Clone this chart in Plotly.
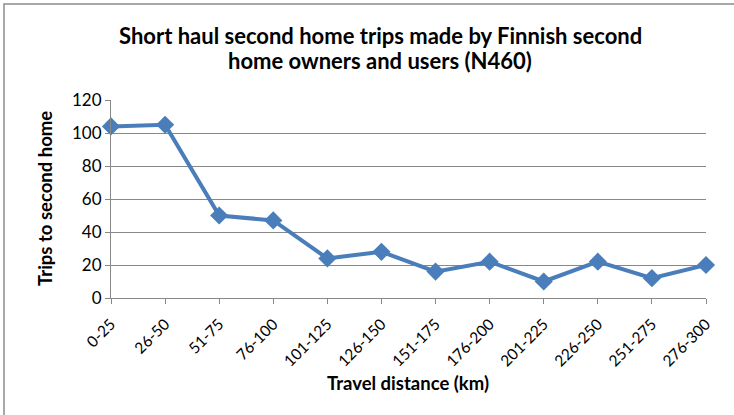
import plotly.graph_objects as go

categories = ["0-25", "26-50", "51-75", "76-100", "101-125", "126-150",
              "151-175", "176-200", "201-225", "226-250", "251-275", "276-300"]
trips = [104, 105, 50, 47, 24, 28, 16, 22, 10, 22, 12, 20]
y_ticks = [0, 20, 40, 60, 80, 100, 120]
title_lines = ["Short haul second home trips made by Finnish second",
               "home owners and users (N460)"]
x_title = "Travel distance (km)"
y_title = "Trips to second home"

W, H = 734, 415
L, R, T, B = 111, 28, 100, 117
pw, ph = W - L - R, H - T - B

FONT = "Lato"
GRID = "#888888"

fig = go.Figure()
fig.add_trace(go.Scatter(
    x=list(range(len(categories))), y=trips, mode="lines+markers",
    line=dict(color="#4a7ebb", width=4),
    marker=dict(symbol="diamond", size=14, color="#4a7ebb"),
    cliponaxis=False, showlegend=False,
))

def px_x(p):
    return (p - L) / pw

def px_y(p):
    return 1 - (p - T) / ph

annotations = [
    dict(text="<b>%s</b>" % title_lines[0], x=px_x(380), y=px_y(36),
         font=dict(size=22)),
    dict(text="<b>%s</b>" % title_lines[1], x=px_x(380), y=px_y(61),
         font=dict(size=22)),
    dict(text="<b>%s</b>" % x_title, x=px_x(408), y=px_y(383),
         font=dict(size=18.5)),
    dict(text="<b>%s</b>" % y_title, x=px_x(45), y=px_y(199),
         font=dict(size=18.5), textangle=-90),
]
for a in annotations:
    a.update(xref="paper", yref="paper", showarrow=False,
             xanchor="center", yanchor="middle")

fig.update_layout(
    width=W, height=H,
    margin=dict(l=L, r=R, t=T, b=B, autoexpand=False),
    paper_bgcolor="white", plot_bgcolor="white",
    font=dict(family=FONT, color="black"),
    xaxis=dict(
        range=[0, len(categories) - 1], automargin=False,
        tickmode="array", tickvals=list(range(len(categories))), ticktext=categories,
        tickangle=-45, tickfont=dict(size=15.5), ticklabelstandoff=5,
        showgrid=False, zeroline=False,
        showline=True, linecolor=GRID, linewidth=1,
        ticks="outside", ticklen=5, tickcolor=GRID,
    ),
    yaxis=dict(
        range=[0, 120], tickvals=y_ticks, tickfont=dict(size=17), automargin=False,
        showgrid=True, gridcolor=GRID, gridwidth=1, zeroline=False,
        showline=True, linecolor=GRID, linewidth=1,
        ticks="outside", ticklen=5, tickcolor=GRID,
    ),
    annotations=annotations,
    shapes=[dict(
        type="rect", xref="paper", yref="paper",
        x0=px_x(4), x1=px_x(W + 10), y0=px_y(H + 10), y1=px_y(4),
        line=dict(color="#8c8c8c", width=1.5), layer="below",
    )],
)

fig.write_html("out.html", config={"displayModeBar": False},
               post_script="document.body.style.margin='0';document.body.style.overflow='hidden';")
